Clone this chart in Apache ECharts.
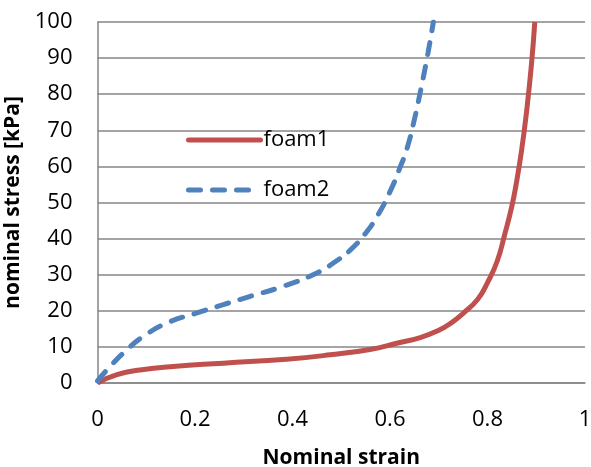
<!DOCTYPE html>
<html>
<head>
<meta charset="utf-8">
<script src="https://cdn.jsdelivr.net/npm/echarts@6/dist/echarts.min.js"></script>
<style>
  html, body { margin: 0; padding: 0; background: #fff; }
  #chart { width: 591px; height: 467px; }
</style>
</head>
<body>
<div id="chart"></div>
<script>
// foam1 curve (nominal strain, nominal stress kPa)
var foam1Strain = [0, 0.04, 0.087, 0.155, 0.258, 0.388, 0.477, 0.559, 0.614, 0.662, 0.70, 0.725, 0.75, 0.78, 0.80, 0.82, 0.835, 0.85, 0.86, 0.87, 0.88, 0.89, 0.897];
var foam1Stress = [0, 2.3, 3.6, 4.6, 5.5, 6.6, 7.8, 9.3, 11, 12.6, 14.6, 16.6, 19.3, 23.2, 27.8, 33.8, 41, 49, 56, 64.5, 75, 88, 100];

// foam2 curve
var foam2Strain = [0, 0.026, 0.06, 0.094, 0.142, 0.204, 0.258, 0.313, 0.381, 0.45, 0.49, 0.52, 0.55, 0.575, 0.60, 0.62, 0.635, 0.65, 0.665, 0.678, 0.689];
var foam2Stress = [0.6, 4.6, 9.2, 12.9, 16.6, 19.4, 21.7, 24, 26.8, 30.5, 33.8, 37, 41.5, 46.5, 53, 59.5, 65, 73, 82.5, 91.5, 100];

var seriesNames = ['foam1', 'foam2'];

function pairs(xs, ys) {
    return xs.map(function (x, i) { return [x, ys[i]]; });
}

var chart = echarts.init(document.getElementById('chart'));
var font = 'Open Sans';
var gray = '#868686';
var option = {
    backgroundColor: '#fff',
    animation: false,
    grid: { left: 97.5, right: 6, top: 22, bottom: 84, outerBoundsMode: 'none' },
    legend: {
        orient: 'vertical',
        left: 186,
        top: 129,
        padding: 0,
        itemWidth: 72,
        itemHeight: 22,
        itemGap: 28,
        itemStyle: { opacity: 0 },
        lineStyle: { width: 5, cap: 'round' },
        textStyle: { fontFamily: font, fontSize: 22, color: '#000', padding: [0, 0, 0, -2] },
        data: seriesNames
    },
    xAxis: {
        type: 'value',
        min: 0,
        max: 1,
        interval: 0.2,
        name: 'Nominal strain',
        nameLocation: 'middle',
        nameGap: 65,
        nameTextStyle: { fontFamily: font, fontSize: 21, fontWeight: 'bold', color: '#000' },
        axisLine: { show: true, lineStyle: { color: gray, width: 1.5 } },
        axisTick: { show: false },
        splitLine: { show: false },
        axisLabel: { fontFamily: font, fontSize: 22, color: '#000', margin: 26 }
    },
    yAxis: {
        type: 'value',
        min: 0,
        max: 100,
        interval: 10,
        name: 'nominal stress [kPa]',
        nameLocation: 'middle',
        nameGap: 67,
        nameTextStyle: { fontFamily: font, fontSize: 21, fontWeight: 'bold', color: '#000' },
        axisLine: { show: true, lineStyle: { color: gray, width: 1.5 } },
        axisTick: { show: false },
        splitLine: { show: true, lineStyle: { color: gray, width: 1.5 } },
        axisLabel: { fontFamily: font, fontSize: 22, color: '#000', margin: 25 }
    },
    series: [
        {
            name: seriesNames[0],
            type: 'line',
            smooth: 0.5,
            symbol: 'none',
            lineStyle: { color: '#C0504D', width: 5 },
            itemStyle: { color: '#C0504D' },
            data: pairs(foam1Strain, foam1Stress)
        },
        {
            name: seriesNames[1],
            type: 'line',
            smooth: 0.5,
            symbol: 'none',
            lineStyle: { color: '#4F81BD', width: 5, type: [12, 12], cap: 'round' },
            itemStyle: { color: '#4F81BD' },
            data: pairs(foam2Strain, foam2Stress)
        }
    ]
};
chart.setOption(option);
</script>
</body>
</html>
